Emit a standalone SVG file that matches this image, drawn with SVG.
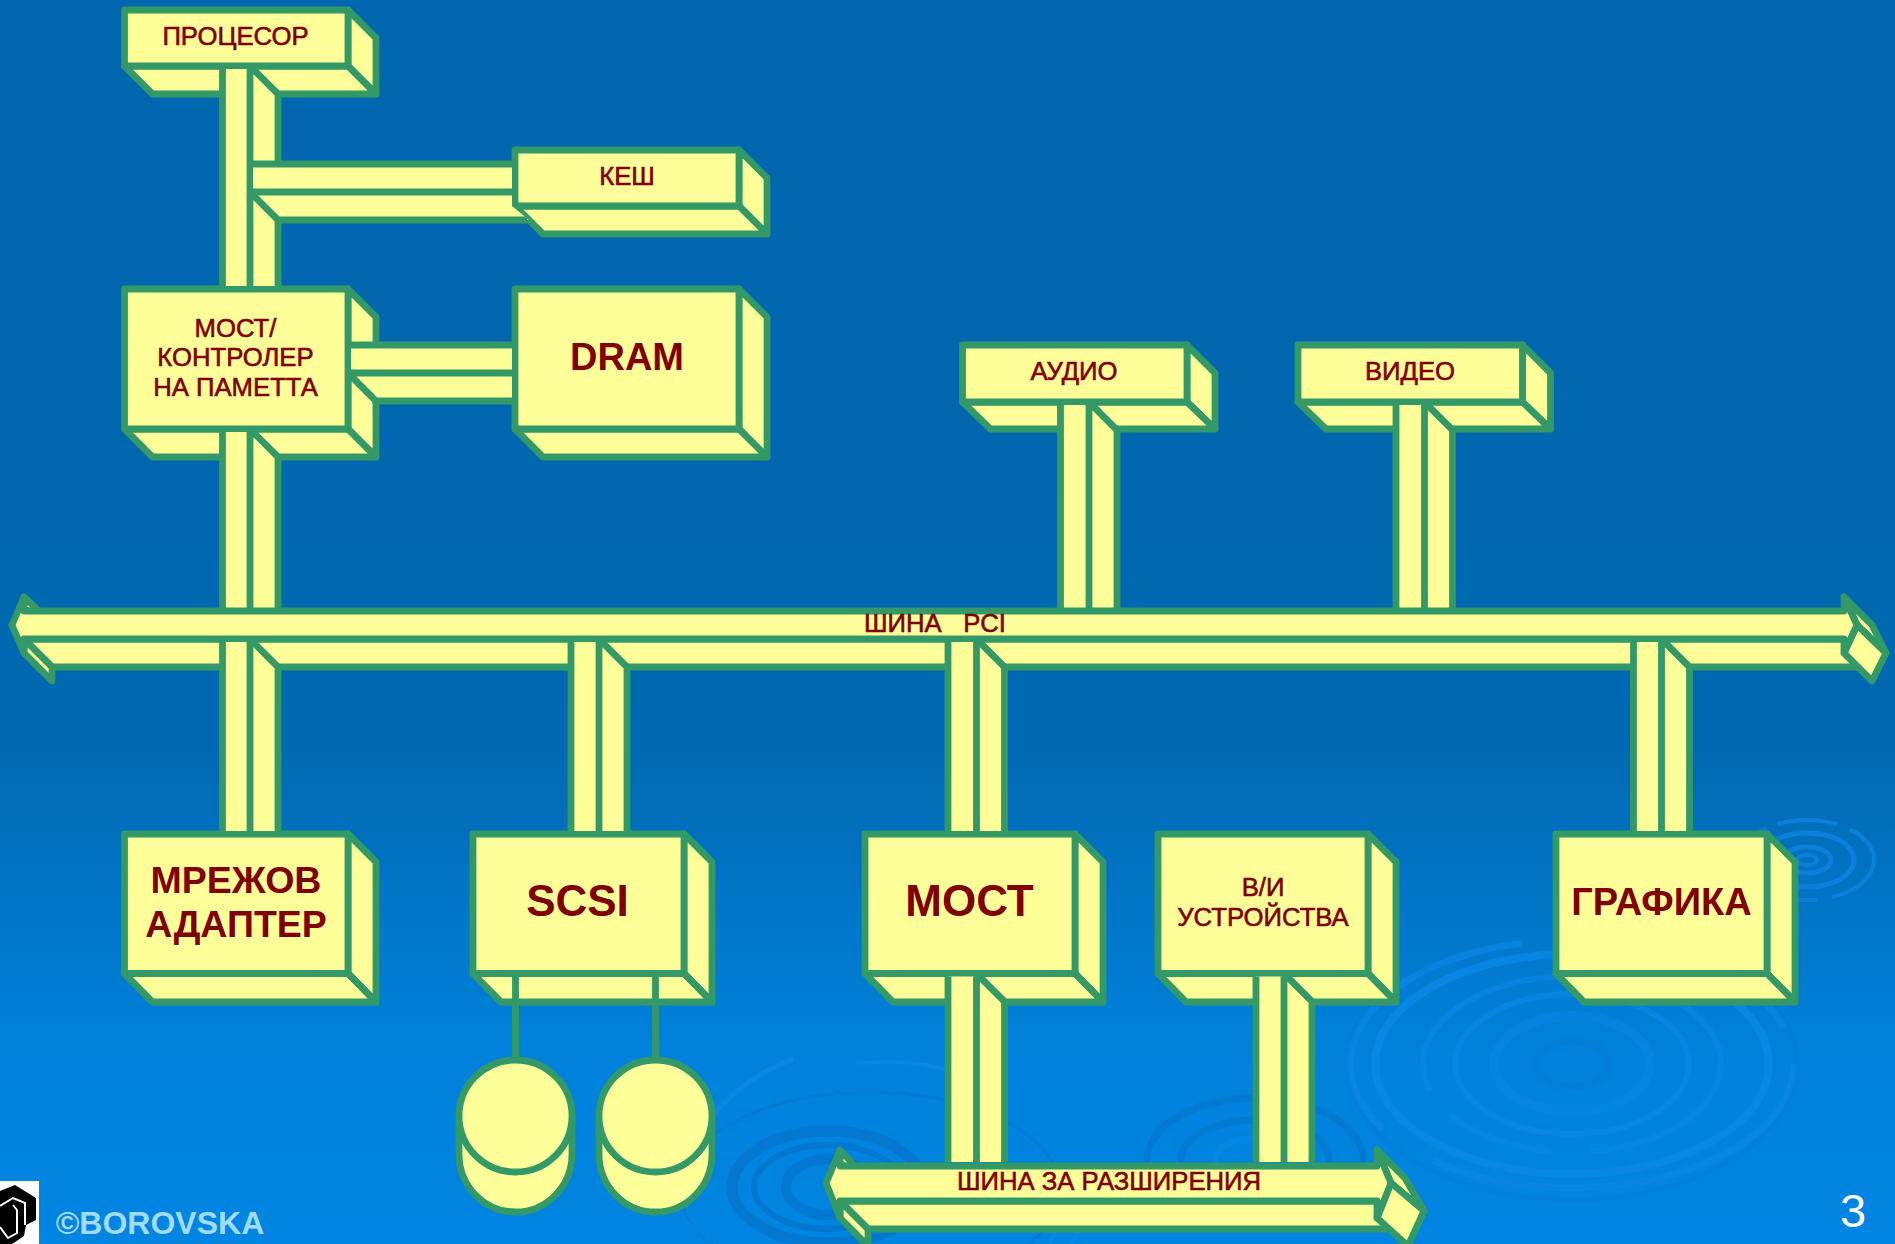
<svg xmlns="http://www.w3.org/2000/svg" width="1895" height="1244" viewBox="0 0 1895 1244">
<defs>
<linearGradient id="bg" x1="0" y1="0" x2="0" y2="1">
<stop offset="0" stop-color="#0167AE"/><stop offset="0.6" stop-color="#0169B1"/><stop offset="0.85" stop-color="#0082DC"/><stop offset="1" stop-color="#0085E2"/>
</linearGradient>
</defs>
<style>
.s{fill:#FFFF99;stroke:#339966;stroke-width:6.8;stroke-linejoin:round}
.f{fill:#FFFF99;stroke:none}
.l{fill:none;stroke:#339966;stroke-width:6.8;stroke-linejoin:miter}
text{font-family:"Liberation Sans",Arial,sans-serif;fill:#800000;text-anchor:middle}
.m{font-size:25.7px;stroke:#800000;stroke-width:.6}
.b{font-size:44px;font-weight:bold}
.g{font-size:38px;font-weight:bold}
.n{font-size:37.5px;font-weight:bold}
.rl{fill:none;stroke:#0A88E6}
.rd{fill:none;stroke:#0276CC}
.rs{fill:none;stroke:#0A80DA}
</style>
<rect width="1895" height="1244" fill="url(#bg)"/>
<g id="ripples">
<ellipse class="rs" cx="1807" cy="860" rx="67" ry="40" stroke-width="4" stroke-dasharray="60 14 90 10 40 12"/>
<ellipse class="rs" cx="1807" cy="860" rx="47" ry="27" stroke-width="5"/>
<ellipse class="rs" cx="1807" cy="860" rx="24" ry="13" stroke-width="5"/>
<ellipse class="rs" cx="1807" cy="860" rx="10" ry="5" stroke-width="4"/>
<ellipse class="rl" cx="1572" cy="1064" rx="222" ry="124" stroke-width="7" stroke-opacity=".7" stroke-dasharray="420 60 300 90 200 40"/>
<ellipse class="rl" cx="1572" cy="1064" rx="197" ry="110" stroke-width="8" stroke-opacity=".8"/>
<ellipse class="rl" cx="1572" cy="1064" rx="149" ry="88" stroke-width="6" stroke-opacity=".6" stroke-dasharray="170 40 110 30 300 20"/>
<ellipse class="rl" cx="1572" cy="1064" rx="117" ry="70" stroke-width="6" stroke-opacity=".7"/>
<ellipse class="rl" cx="1572" cy="1064" rx="78" ry="48" stroke-width="10" stroke-opacity=".45"/>
<ellipse class="rd" cx="1572" cy="1064" rx="37" ry="23" stroke-width="7" stroke-opacity=".25"/>
<ellipse class="rd" cx="1572" cy="1064" rx="225" ry="136" stroke-width="4" stroke-opacity=".25"/>
<ellipse class="rl" cx="886" cy="1190" rx="200" ry="148" stroke-width="5" stroke-opacity=".8" stroke-dasharray="330 200 200 600"/>
<ellipse class="rl" cx="886" cy="1190" rx="180" ry="128" stroke-width="4" stroke-opacity=".8" stroke-dasharray="400 300 100 400"/>
<ellipse class="rd" cx="870" cy="1190" rx="190" ry="98" stroke-width="3" stroke-opacity=".5"/>
<ellipse class="rd" cx="828" cy="1187" rx="96" ry="56" stroke-width="11" stroke-opacity=".8"/>
<ellipse class="rd" cx="828" cy="1187" rx="74" ry="42" stroke-width="6" stroke-opacity=".8"/>
<ellipse class="rd" cx="828" cy="1187" rx="42" ry="28" stroke-width="10" stroke-opacity=".8"/>
<ellipse class="rd" cx="1255" cy="1160" rx="108" ry="62" stroke-width="7" stroke-opacity=".7"/>
<ellipse class="rd" cx="1255" cy="1160" rx="74" ry="40" stroke-width="7" stroke-opacity=".7"/>
<ellipse class="rl" cx="1255" cy="1160" rx="40" ry="22" stroke-width="6" stroke-opacity=".6"/>
</g>

<g id="cpu">
<polygon class="s" points="348,10 376,38 376,94 348,66"/>
<polygon class="s" points="124.5,66 152.5,94 376,94 348,66"/>
<rect class="s" x="124.5" y="10" width="223.5" height="56"/>
<text class="m" x="235.5" y="45">ПРОЦЕСОР</text>
</g>
<g id="cache">
<polygon class="s" points="739,150 767,178 767,234 739,206"/>
<polygon class="s" points="515,206 543,234 767,234 739,206"/>
<rect class="s" x="515" y="150" width="224" height="56"/>
<text class="m" x="627" y="185">КЕШ</text>
</g>
<g id="bridge">
<polygon class="s" points="348,289 376,317 376,457 348,429"/>
<polygon class="s" points="124.5,429 152.5,457 376,457 348,429"/>
<rect class="s" x="124.5" y="289" width="223.5" height="140"/>
<text class="m" x="235.5" y="337">МОСТ/</text>
<text class="m" x="235.5" y="366">КОНТРОЛЕР</text>
<text class="m" x="235.5" y="396">НА ПАМЕТТА</text>
</g>
<g id="dram">
<polygon class="s" points="739,289 767,317 767,457 739,429"/>
<polygon class="s" points="515,429 543,457 767,457 739,429"/>
<rect class="s" x="515" y="289" width="224" height="140"/>
<text class="g" x="627" y="370">DRAM</text>
</g>
<g id="audio">
<polygon class="s" points="1187,345 1215,373 1215,429 1187,402"/>
<polygon class="s" points="962.5,402 990.5,429 1215,429 1187,402"/>
<rect class="s" x="962.5" y="345" width="224.5" height="57"/>
<text class="m" x="1074" y="380">АУДИО</text>
</g>
<g id="video">
<polygon class="s" points="1522.5,345 1550.5,373 1550.5,429 1522.5,402"/>
<polygon class="s" points="1298,402 1326,429 1550.5,429 1522.5,402"/>
<rect class="s" x="1298" y="345" width="224.5" height="57"/>
<text class="m" x="1410" y="380">ВИДЕО</text>
</g>
<g id="netadapter">
<polygon class="s" points="348,834 376,862 376,1002 348,973.5"/>
<polygon class="s" points="124.5,973.5 152.5,1002 376,1002 348,973.5"/>
<rect class="s" x="124.5" y="834" width="223.5" height="139.5"/>
<text class="n" x="236" y="893">МРЕЖОВ</text>
<text class="n" x="236" y="937">АДАПТЕР</text>
</g>
<g id="scsi">
<polygon class="s" points="684,834 712,862 712,1002 684,973.5"/>
<polygon class="s" points="473,973.5 501,1002 712,1002 684,973.5"/>
<rect class="s" x="473" y="834" width="211" height="139.5"/>
<text class="b" x="577.5" y="916">SCSI</text>
</g>
<g id="most">
<polygon class="s" points="1075,834 1103,862 1103,1002 1075,973.5"/>
<polygon class="s" points="865,973.5 893,1002 1103,1002 1075,973.5"/>
<rect class="s" x="865" y="834" width="210" height="139.5"/>
<text class="b" x="969.5" y="916">МОСТ</text>
</g>
<g id="io">
<polygon class="s" points="1368,834 1396,862 1396,1002 1368,973.5"/>
<polygon class="s" points="1158,973.5 1186,1002 1396,1002 1368,973.5"/>
<rect class="s" x="1158" y="834" width="210" height="139.5"/>
<text class="m" x="1263" y="896">В/И</text>
<text class="m" x="1263" y="926">УСТРОЙСТВА</text>
</g>
<g id="graphics">
<polygon class="s" points="1767,834 1795,862 1795,1002 1767,973.5"/>
<polygon class="s" points="1556,973.5 1584,1002 1795,1002 1767,973.5"/>
<rect class="s" x="1556" y="834" width="211" height="139.5"/>
<text class="g" x="1661.5" y="915">ГРАФИКА</text>
</g>
<g id="disk1">
<path class="s" d="M459,1116 V1154 A56.5,58 0 0 0 572,1154 V1116 Z"/>
<ellipse class="s" cx="515.5" cy="1116" rx="56.5" ry="56"/>
</g>
<g id="disk2">
<path class="s" d="M599,1116 V1154 A56.5,58 0 0 0 712,1154 V1116 Z"/>
<ellipse class="s" cx="655.5" cy="1116" rx="56.5" ry="56"/>
</g>

<g id="connectors">
<path class="f" d="M222.5,69 H253 L278,94 V286 H222.5 Z"/>
<path class="l" d="M222.5,69 V286 M250,69 V286 M250,66 L278,94 V164 M278,220 V286"/>
<path class="f" d="M253,164 H512 V206 L529,220 H278 L253,195 Z"/>
<path class="l" d="M250,164 H512 M250,192 H512 M250,192 L278,220 H527"/>
<path class="f" d="M351,345 H512 V398 H376 L351,373 Z"/>
<path class="l" d="M345,345 H512 M351,373 H512 M348,373 L376,401 H512 M376,401 V404"/>
<path class="f" d="M222.5,432 H253 L278,457 V608 H222.5 Z"/>
<path class="l" d="M222.5,432 V608 M250,432 V608 M250,429 L278,457 V608"/>
<path class="f" d="M1060.5,405 H1092 L1117,430 V608 H1060.5 Z"/>
<path class="l" d="M1060.5,405 V608 M1089,405 V608 M1089,402 L1117,430 V608"/>
<path class="f" d="M1396,405 H1427.5 L1452.5,430 V608 H1396 Z"/>
<path class="l" d="M1396,405 V608 M1424.5,405 V608 M1424.5,402 L1452.5,430 V608"/>
<g id="pci-bus">
<polygon class="s" points="24,639 52,667 1872,667 1844,639"/>
<polygon class="s" points="24,639 52,667 52,681 24,653"/>
<polygon class="s" points="24,597 39,611 24,611"/>
<polygon class="s" points="1844,597 1872,625 1886,653 1857,625"/>
<polygon class="s" points="1857,625 1886,653 1872,681 1844,653"/>
<polygon class="s" points="12,625 24,597 24,611 1844,611 1844,597 1857,625 1844,653 1844,639 24,639 24,653"/>
<text class="m" x="935" y="632" style="white-space:pre">ШИНА   PCI</text>
</g>
<path class="f" d="M222.5,642 H253 L278,667 V831 H222.5 Z"/>
<path class="l" d="M222.5,642 V831 M250,642 V831 M250,639 L278,667 V831"/>
<path class="f" d="M571,642 H602 L627,667 V831 H571 Z"/>
<path class="l" d="M571,642 V831 M599,642 V831 M599,639 L627,667 V831"/>
<path class="f" d="M948,642 H979.5 L1004.5,667 V831 H948 Z"/>
<path class="l" d="M948,642 V831 M976.5,642 V831 M976.5,639 L1004.5,667 V831"/>
<path class="f" d="M1633.5,642 H1664.5 L1689.5,667 V831 H1633.5 Z"/>
<path class="l" d="M1633.5,642 V831 M1661.5,642 V831 M1661.5,639 L1689.5,667 V831"/>
<path class="l" d="M515.5,976 V1060 M655.5,976 V1060"/>
<path class="f" d="M948,976.5 H979.5 L1004.5,1001.5 V1162 H948 Z"/>
<path class="l" d="M948,976.5 V1162 M976.5,976.5 V1162 M976.5,973.5 L1004.5,1001.5 V1162"/>
<path class="f" d="M1256,976.5 H1287 L1312,1001.5 V1162 H1256 Z"/>
<path class="l" d="M1256,976.5 V1162 M1284,976.5 V1162 M1284,973.5 L1312,1001.5 V1162"/>
<g id="expansion-bus">
<polygon class="s" points="840,1201 868,1229 1405,1229 1377,1201"/>
<polygon class="s" points="840,1201 868,1229 868,1246 840,1218"/>
<polygon class="s" points="840,1150 855,1166 840,1166"/>
<polygon class="s" points="1377,1150 1405,1178 1424,1211 1391,1183"/>
<polygon class="s" points="1391,1183 1424,1211 1408,1246 1377,1218"/>
<polygon class="s" points="826,1183 840,1150 840,1166 1377,1166 1377,1150 1391,1183 1377,1218 1377,1201 840,1201 840,1218"/>
<text class="m" x="1109" y="1190">ШИНА ЗА РАЗШИРЕНИЯ</text>
</g>
</g>

<g id="logo">
<rect x="0" y="1181" width="39" height="63" fill="#FFFFFF"/>
<polygon points="0,1191 15,1185 36,1198 36,1220 26,1225 24,1236 12,1244 0,1244" fill="#000000"/>
<path d="M0,1206 L13,1198 L25,1203 V1225 M13,1205 L17,1210 V1233 L8,1238 L0,1227" fill="none" stroke="#FFFFFF" stroke-width="2"/>
</g>
<text x="160" y="1234" style="font-size:32px;font-weight:bold;fill:#A0DCFF">©BOROVSKA</text>
<text x="1853" y="1227" style="font-size:47px;fill:#FFFFFF">3</text>
</svg>
